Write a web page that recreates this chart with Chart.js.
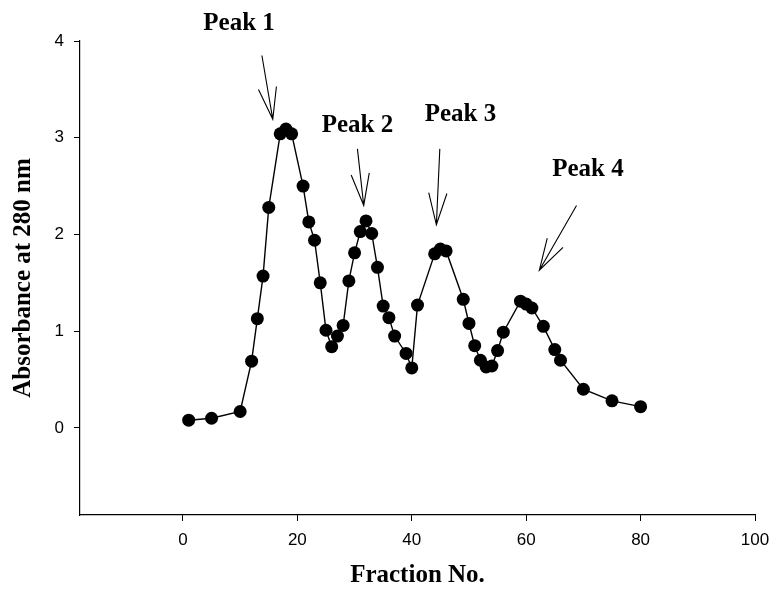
<!DOCTYPE html>
<html>
<head>
<meta charset="utf-8">
<title>Fraction profile</title>
<script src="https://cdn.jsdelivr.net/npm/chart.js@4/dist/chart.umd.min.js"></script>
<style>
  html, body { margin: 0; padding: 0; background: #fff; }
  #profileChart { display: block; }
</style>
</head>
<body>
<canvas id="profileChart" width="771" height="599"></canvas>
<script>
// --- DATA ----
const fractions = [1, 5, 10, 12, 13, 14, 15, 17, 18, 19, 21, 22, 23, 24, 25, 26, 27, 28, 29, 30,
  31, 32, 33, 34, 35, 36, 37, 39, 40, 41, 44, 45, 46, 49, 50, 51, 52, 53, 54, 55,
  56, 59, 60, 61, 63, 65, 66, 70, 75, 80];
const absorbance = [0.08, 0.10, 0.17, 0.69, 1.13, 1.57, 2.28, 3.04, 3.09, 3.04, 2.50, 2.13, 1.94, 1.50, 1.01, 0.84, 0.95, 1.06, 1.52, 1.81,
  2.03, 2.14, 2.01, 1.66, 1.26, 1.14, 0.95, 0.77, 0.62, 1.27, 1.80, 1.85, 1.83, 1.33, 1.08, 0.85, 0.70, 0.63, 0.64, 0.80,
  0.99, 1.31, 1.28, 1.24, 1.05, 0.81, 0.70, 0.40, 0.28, 0.22];
const xTicks = [0, 20, 40, 60, 80, 100];
const yTicks = [0, 1, 2, 3, 4];

// peak labels and their arrows, in (fraction, absorbance) units
const peakNames = ['Peak 1', 'Peak 2', 'Peak 3', 'Peak 4'];
const peakLabelAt = [[9.8, 4.18], [30.5, 3.13], [48.5, 3.24], [70.8, 2.67]];
const arrowFrom = [[13.8, 3.85], [30.5, 2.885], [44.9, 2.885], [68.8, 2.30]];
const arrowTo = [[15.7, 3.19], [31.6, 2.30], [44.3, 2.10], [62.3, 1.63]];

const points = fractions.map((f, i) => ({ x: f, y: absorbance[i] }));

// --- PEAK ARROWS ----
const peakPlugin = {
  id: 'peakArrows',
  afterDatasetsDraw(chart) {
    const { ctx, scales: { x, y } } = chart;
    ctx.save();
    ctx.strokeStyle = '#000';
    ctx.fillStyle = '#000';
    ctx.lineWidth = 1.1;
    ctx.font = 'bold 25px "Liberation Serif", "Times New Roman", serif';
    ctx.textAlign = 'center';
    ctx.textBaseline = 'middle';
    peakNames.forEach((name, i) => {
      ctx.fillText(name, x.getPixelForValue(peakLabelAt[i][0]), y.getPixelForValue(peakLabelAt[i][1]));
      const x0 = x.getPixelForValue(arrowFrom[i][0]);
      const y0 = y.getPixelForValue(arrowFrom[i][1]);
      const x1 = x.getPixelForValue(arrowTo[i][0]);
      const y1 = y.getPixelForValue(arrowTo[i][1]);
      const back = Math.atan2(y0 - y1, x0 - x1);
      const head = 33, spread = 16 * Math.PI / 180;
      ctx.beginPath();
      ctx.moveTo(x0, y0);
      ctx.lineTo(x1, y1);
      ctx.moveTo(x1 + head * Math.cos(back - spread), y1 + head * Math.sin(back - spread));
      ctx.lineTo(x1, y1);
      ctx.lineTo(x1 + head * Math.cos(back + spread), y1 + head * Math.sin(back + spread));
      ctx.stroke();
    });
    ctx.restore();
  }
};

// --- CHART ----
const ctx = document.getElementById('profileChart').getContext('2d');
const tickFont = { family: '"Liberation Sans", Arial, sans-serif', size: 17 };
const titleFont = { family: '"Liberation Serif", "Times New Roman", serif', size: 25, weight: 'bold' };

new Chart(ctx, {
  type: 'scatter',
  data: {
    datasets: [{
      data: points,
      showLine: true,
      borderColor: '#000',
      borderWidth: 1.4,
      backgroundColor: '#000',
      pointRadius: 6.5,
      pointHoverRadius: 6.5,
      pointBorderWidth: 0,
      tension: 0
    }]
  },
  options: {
    responsive: false,
    animation: false,
    layout: { padding: { left: 0, top: 41, right: 16, bottom: 0 } },
    plugins: {
      legend: { display: false },
      tooltip: { enabled: false }
    },
    scales: {
      x: {
        type: 'linear',
        min: -18,
        max: 100,
        afterBuildTicks: axis => { axis.ticks = xTicks.map(v => ({ value: v })); },
        afterFit: axis => {
          axis.height = 84;
          // the "100" label may hang over the right edge
          axis.paddingLeft = 0;
          axis.paddingRight = 0;
        },
        border: { display: true, color: '#000', width: 1.2 },
        grid: { drawOnChartArea: false, color: '#000', tickLength: 6, tickWidth: 1 },
        ticks: { color: '#000', font: tickFont, padding: 9, maxRotation: 0 },
        title: { display: true, text: 'Fraction No.', color: '#000', font: titleFont, padding: { top: 0, bottom: 8 } }
      },
      y: {
        min: -0.9,
        max: 4,
        afterBuildTicks: axis => { axis.ticks = yTicks.map(v => ({ value: v })); },
        afterFit: axis => {
          axis.width = 80;
          axis.paddingTop = 0;
          axis.paddingBottom = 0;
        },
        border: { display: true, color: '#000', width: 1.2 },
        grid: { drawOnChartArea: false, color: '#000', tickLength: 6, tickWidth: 1 },
        ticks: { color: '#000', font: tickFont, padding: 10 },
        title: { display: true, text: 'Absorbance at 280 nm', color: '#000', font: titleFont, padding: { top: 9, bottom: 0 } }
      }
    }
  },
  plugins: [peakPlugin]
});
</script>
</body>
</html>
